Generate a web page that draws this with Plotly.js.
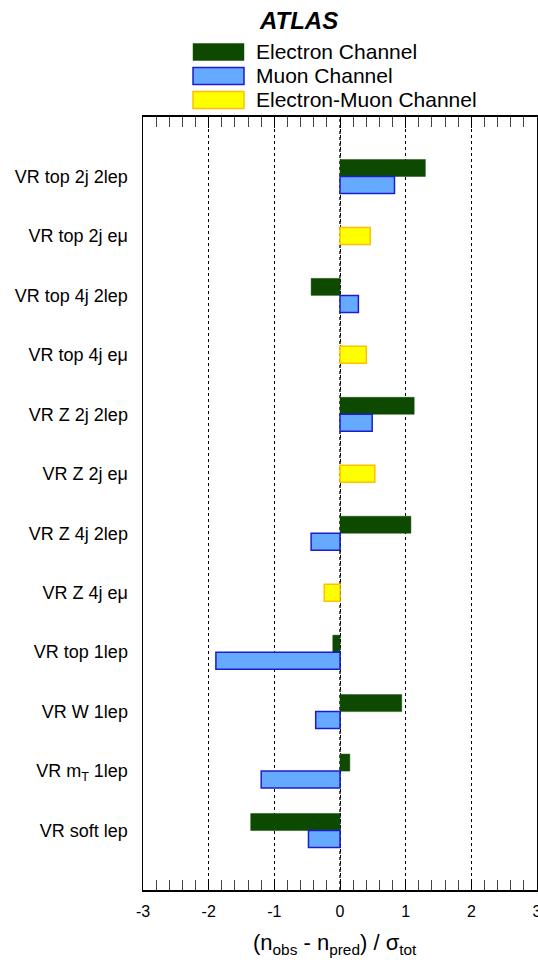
<!DOCTYPE html>
<html>
<head>
<meta charset="utf-8">
<script src="https://cdn.plot.ly/plotly-3.0.1.min.js"></script>
<style>html,body{margin:0;padding:0;background:#fff;}#chart{width:538px;height:965px;}</style>
</head>
<body>
<div id="chart"></div>
<script>
// ---- data ----
var categories = ["VR top 2j 2lep","VR top 2j emu","VR top 4j 2lep","VR top 4j emu","VR Z 2j 2lep","VR Z 2j emu","VR Z 4j 2lep","VR Z 4j emu","VR top 1lep","VR W 1lep","VR mT 1lep","VR soft lep"];
var tickLabels = ["VR top 2j 2lep","VR top 2j eμ","VR top 4j 2lep","VR top 4j eμ","VR Z 2j 2lep","VR Z 2j eμ","VR Z 4j 2lep","VR Z 4j eμ","VR top 1lep","VR W 1lep","VR m<sub>T</sub> 1lep","VR soft lep"];
var electron = [1.30, null, -0.44, null, 1.13, null, 1.08, null, -0.11, 0.94, 0.15, -1.36];
var muon     = [0.83, null, 0.28, null, 0.49, null, -0.44, null, -1.89, -0.37, -1.20, -0.48];
var emu      = [null, 0.46, null, 0.40, null, 0.53, null, -0.24, null, null, null, null];
var xTickVals = [-3,-2,-1,0,1,2,3];
var seriesNames = ["Electron Channel","Muon Channel","Electron-Muon Channel"];

// ---- layout constants ----
var W = 538, H = 965, ML = 143, MR = 1, MT = 117, MB = 75;
var PW = W - ML - MR, PH = H - MT - MB;
function px(x){ return (x - ML) / PW; }
function py(y){ return (H - MB - y) / PH; }
var BW = 0.286;
var FONT = "Liberation Sans, Arial, sans-serif";

var cols = {
  e: {fill:"#0d4a00", line:"rgba(13,74,0,0.45)"},
  m: {fill:"#66aaff", line:"#1c1ccc"},
  em:{fill:"#ffff00", line:"#ffc000"}
};

var traces = [
  {type:"bar", orientation:"h", name:seriesNames[0], y:categories, x:electron, width:BW, offset:-BW,
   marker:{color:cols.e.fill, line:{color:cols.e.line, width:1}}},
  {type:"bar", orientation:"h", name:seriesNames[1], y:categories, x:muon, width:BW, offset:0,
   marker:{color:cols.m.fill, line:{color:cols.m.line, width:1.5}}},
  {type:"bar", orientation:"h", name:seriesNames[2], y:categories, x:emu, width:BW, offset:-BW/2,
   marker:{color:cols.em.fill, line:{color:cols.em.line, width:1.5}}}
];

var shapes = [
  {type:"line", xref:"x", yref:"paper", x0:0, x1:0, y0:0, y1:1, layer:"below",
   line:{color:"#555", width:2, dash:"dot"}}
];
var annotations = [
  {xref:"paper", yref:"paper", x:px(298.5), y:py(20), text:"<b><i>ATLAS</i></b>", showarrow:false,
   xanchor:"center", yanchor:"middle", font:{family:FONT, size:24, color:"#000"}},
  {xref:"paper", yref:"paper", x:px(335), y:py(944), text:"(n<sub>obs</sub> - n<sub>pred</sub>) / σ<sub>tot</sub>", showarrow:false,
   xanchor:"center", yanchor:"middle", font:{family:FONT, size:22, color:"#000"}}
];
var legendRows = [
  {y:52, c:cols.e, lw:1},
  {y:76, c:cols.m, lw:1.5},
  {y:100, c:cols.em, lw:1.5}
];
legendRows.forEach(function(r, i){
  shapes.push({type:"rect", xref:"paper", yref:"paper", x0:px(193), x1:px(244), y0:py(r.y+8.5), y1:py(r.y-8.5),
    fillcolor:r.c.fill, line:{color:r.c.line, width:r.lw}});
  annotations.push({xref:"paper", yref:"paper", x:px(254), y:py(r.y), text:seriesNames[i], showarrow:false,
    xanchor:"left", yanchor:"middle", font:{family:FONT, size:21, color:"#000"}});
});

var layout = {
  width:W, height:H,
  margin:{l:ML, r:MR, t:MT, b:MB, pad:0},
  paper_bgcolor:"#fff", plot_bgcolor:"#fff",
  barmode:"overlay",
  showlegend:false,
  font:{family:FONT, color:"#000"},
  xaxis:{
    range:[-3,3], tickvals:xTickVals, ticktext:xTickVals.map(String),
    ticks:"inside", ticklen:11, tickwidth:1, tickcolor:"#000",
    minor:{dtick:0.2, tick0:0, ticks:"inside", ticklen:10, tickwidth:1, tickcolor:"#444", showgrid:false},
    showline:true, linecolor:"#000", linewidth:2, mirror:"ticks",
    showgrid:true, gridcolor:"#000", gridwidth:1, griddash:"dot",
    zeroline:false,
    ticklabeloverflow:"allow",
    ticklabelstandoff:6,
    tickfont:{family:FONT, size:16}
  },
  yaxis:{
    type:"category", categoryorder:"array", categoryarray:categories,
    range:[12,-1], tickvals:categories, ticktext:tickLabels,
    ticks:"", showgrid:false, zeroline:false,
    showline:true, linecolor:"#000", linewidth:1.5, mirror:true,
    ticklabelstandoff:10,
    tickfont:{family:FONT, size:18}
  },
  shapes:shapes,
  annotations:annotations
};

Plotly.newPlot("chart", traces, layout, {displayModeBar:false, staticPlot:true});
</script>
</body>
</html>
